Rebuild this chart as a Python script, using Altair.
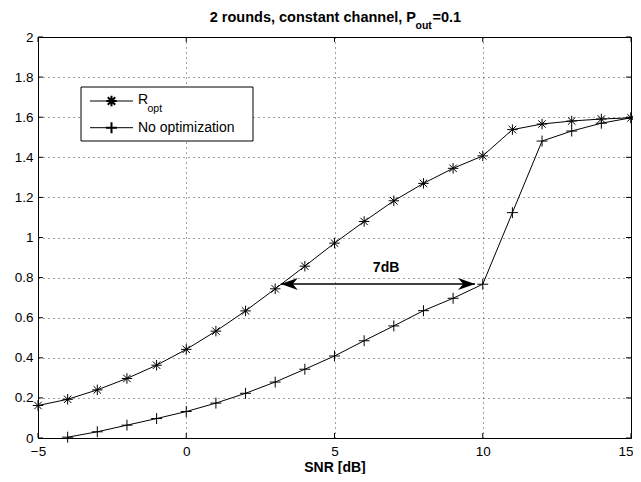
import altair as alt
import pandas as pd

# ---- data ----
snr = list(range(-5, 16))
r_opt = [0.162, 0.193, 0.240, 0.297, 0.363, 0.442, 0.533, 0.634, 0.744, 0.857,
         0.972, 1.080, 1.183, 1.270, 1.345, 1.407, 1.538, 1.566, 1.581, 1.591, 1.597]
snr_noopt = list(range(-4, 16))
no_opt = [0.004, 0.031, 0.064, 0.097, 0.132, 0.174, 0.223, 0.279, 0.343, 0.409,
          0.485, 0.559, 0.635, 0.697, 0.767, 1.124, 1.481, 1.531, 1.570, 1.597]
series_names = ["R_opt", "No optimization"]

x_ticks = [-5, 0, 5, 10, 15]
y_ticks = [0, 0.2, 0.4, 0.6, 0.8, 1.0, 1.2, 1.4, 1.6, 1.8, 2.0]

arrow_x = [3.19, 9.74]
arrow_y = [0.768, 0.768]
arrow_dir = ["L", "R"]
gap_label = ["7dB"]
gap_label_x = [6.74]
gap_label_y = [0.85]

title_main = "2 rounds, constant channel, P"
title_sub = "out"
title_end = "=0.1"
legend_main = ["R", "No optimization"]
legend_sub = "opt"
x_title = "SNR [dB]"

# ---- layout / style ----
W, H = 593, 401
FONT = "Liberation Sans"
ASTER = "M-1,0L1,0M0,-1L0,1M-0.71,-0.71L0.71,0.71M-0.71,0.71L0.71,-0.71"
PLUS = "M-1,0L1,0M0,-1L0,1"
HEAD_R = "M0,0L-2,-0.7L-1.4,0L-2,0.7Z"
HEAD_L = "M0,0L2,-0.7L1.4,0L2,0.7Z"

df_r = pd.DataFrame({"snr": snr, "val": r_opt, "series": series_names[0]})
df_n = pd.DataFrame({"snr": snr_noopt, "val": no_opt, "series": series_names[1]})
df = pd.concat([df_r, df_n], ignore_index=True)

xs = alt.Scale(domain=[-5, 15], nice=False, zero=False)
ys = alt.Scale(domain=[0, 2], nice=False, zero=False)

last_x = x_ticks[-1]
x_axis = alt.Axis(values=x_ticks, title=x_title, grid=True, ticks=False, tickSize=0,
                  domain=False, labelPadding=6, labelFontSize=13.5, labelColor="black",
                  labelAlign={"condition": {"test": f"datum.value == {last_x}", "value": "right"},
                              "value": "center"},
                  labelOffset={"condition": {"test": f"datum.value == {last_x}", "value": 2},
                               "value": 0},
                  titleFontSize=14, titleFontWeight="bold", titleColor="black",
                  titlePadding=3, labelFlush=False)
y_axis = alt.Axis(values=y_ticks, format=".1~f", title=None, grid=True, ticks=False,
                  tickSize=0, domain=False, labelPadding=5, labelFontSize=13.5,
                  labelColor="black", labelFlush=False)

X = alt.X("snr:Q", scale=xs, axis=x_axis)
Y = alt.Y("val:Q", scale=ys, axis=y_axis)

lines = alt.Chart(df).mark_line(color="black", strokeWidth=1).encode(
    x=X, y=Y, detail="series:N")

pts_r = alt.Chart(df_r).mark_point(shape=ASTER, size=110, color="black", filled=False,
                                   strokeWidth=1, opacity=1).encode(
    x=alt.X("snr:Q", scale=xs), y=alt.Y("val:Q", scale=ys))
pts_n = alt.Chart(df_n).mark_point(shape=PLUS, size=120, color="black", filled=False,
                                   strokeWidth=1, opacity=1).encode(
    x=alt.X("snr:Q", scale=xs), y=alt.Y("val:Q", scale=ys))

# arrow annotation
arrow_df = pd.DataFrame({"x": arrow_x, "y": arrow_y, "dir": arrow_dir})
arrow_line = alt.Chart(pd.DataFrame({"x1": [arrow_x[0]], "x2": [arrow_x[1]], "y": [arrow_y[0]]})).mark_rule(
    color="black", strokeWidth=1.6).encode(
    x=alt.X("x1:Q", scale=xs), x2="x2:Q", y=alt.Y("y:Q", scale=ys))
arrow_heads = alt.Chart(arrow_df).mark_point(filled=True, color="black", size=289, opacity=1).encode(
    x=alt.X("x:Q", scale=xs), y=alt.Y("y:Q", scale=ys),
    shape=alt.Shape("dir:N", scale=alt.Scale(domain=["L", "R"], range=[HEAD_L, HEAD_R]), legend=None))
gap_text = alt.Chart(pd.DataFrame({"t": gap_label, "x": gap_label_x, "y": gap_label_y})).mark_text(
    fontWeight="bold", fontSize=14, color="black", baseline="middle", align="center").encode(
    x=alt.X("x:Q", scale=xs), y=alt.Y("y:Q", scale=ys), text="t:N")

# inward ticks on all four sides
xt = pd.DataFrame({"v": x_ticks})
yt = pd.DataFrame({"v": y_ticks})
tk = dict(color="black", strokeWidth=1)
t_bottom = alt.Chart(xt).mark_rule(**tk).encode(x=alt.X("v:Q", scale=xs), y=alt.value(H), y2=alt.value(H - 5))
t_top = alt.Chart(xt).mark_rule(**tk).encode(x=alt.X("v:Q", scale=xs), y=alt.value(0), y2=alt.value(5))
t_left = alt.Chart(yt).mark_rule(**tk).encode(y=alt.Y("v:Q", scale=ys), x=alt.value(0), x2=alt.value(5))
t_right = alt.Chart(yt).mark_rule(**tk).encode(y=alt.Y("v:Q", scale=ys), x=alt.value(W), x2=alt.value(W - 5))

# manual legend
one = alt.Chart(pd.DataFrame({"k": [0]}))
leg_box = one.mark_rect(fill="white", stroke="black", strokeWidth=1).encode(
    x=alt.value(43), x2=alt.value(215), y=alt.value(50), y2=alt.value(104))
leg_l1 = one.mark_rule(color="black", strokeWidth=1).encode(
    x=alt.value(52), x2=alt.value(95), y=alt.value(64))
leg_l2 = one.mark_rule(color="black", strokeWidth=1).encode(
    x=alt.value(52), x2=alt.value(95), y=alt.value(90.7))
leg_p1 = one.mark_point(shape=ASTER, size=110, color="black", filled=False, opacity=1).encode(
    x=alt.value(73.5), y=alt.value(64))
leg_p2 = one.mark_point(shape=PLUS, size=120, color="black", filled=False, opacity=1).encode(
    x=alt.value(73.5), y=alt.value(90.7))
leg_t1 = one.mark_text(text=legend_main[0], fontSize=14, align="left", baseline="alphabetic",
                       color="black").encode(x=alt.value(100), y=alt.value(67.3))
leg_t1s = one.mark_text(text=legend_sub, fontSize=10.5, align="left", baseline="alphabetic",
                        color="black").encode(x=alt.value(109.5), y=alt.value(74.7))
leg_t2 = one.mark_text(text=legend_main[1], fontSize=14, align="left", baseline="alphabetic",
                       color="black").encode(x=alt.value(100), y=alt.value(95.3))

# title with subscript
tt1 = one.mark_text(text=title_main, fontSize=14.5, fontWeight="bold", align="right",
                    baseline="alphabetic", color="black").encode(x=alt.value(378), y=alt.value(-15.5))
tt2 = one.mark_text(text=title_sub, fontSize=10.5, fontWeight="bold", align="left",
                    baseline="alphabetic", color="black").encode(x=alt.value(377.5), y=alt.value(-8))
tt3 = one.mark_text(text=title_end, fontSize=14.5, fontWeight="bold", align="left",
                    baseline="alphabetic", color="black").encode(x=alt.value(394.5), y=alt.value(-15.5))

chart = alt.layer(
    lines, pts_r, pts_n, arrow_line, arrow_heads, gap_text,
    t_bottom, t_top, t_left, t_right,
    leg_box, leg_l1, leg_l2, leg_p1, leg_p2, leg_t1, leg_t1s, leg_t2,
    tt1, tt2, tt3,
).properties(
    width=W, height=H, autosize="none",
    padding={"left": 30, "top": 29, "right": 2, "bottom": 36},
).configure(font=FONT).configure_view(
    stroke="black", strokeWidth=1
).configure_axis(
    gridColor="black", gridOpacity=0.75, gridDash=[1, 4], gridWidth=1,
    labelFont=FONT, titleFont=FONT
)

chart.save("out.html", embed_options={"renderer": "svg", "actions": False})
